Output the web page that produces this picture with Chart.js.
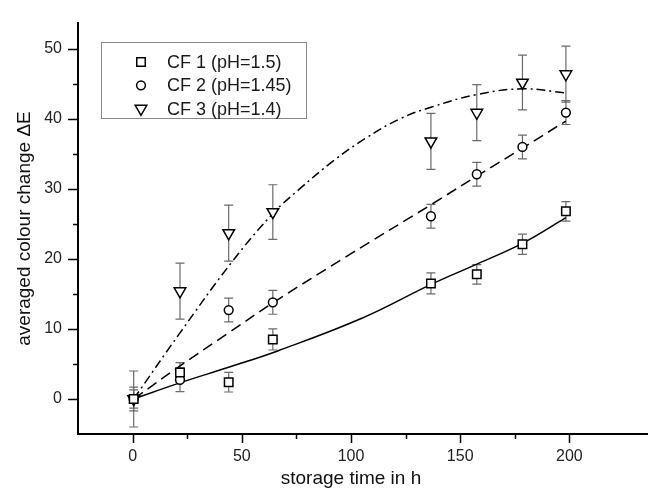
<!DOCTYPE html>
<html>
<head>
<meta charset="utf-8">
<script src="https://cdn.jsdelivr.net/npm/chart.js@4.4.1/dist/chart.umd.min.js"></script>
<style>
  html, body { margin: 0; padding: 0; background: #fff; }
  #wrap { position: relative; width: 648px; height: 488px; }
</style>
</head>
<body>
<div id="wrap"><canvas id="chart" width="648" height="488"></canvas></div>
<script>
// measured points (storage time in h, averaged colour change dE, +- error)
const times = [0.5, 21.7, 44, 64.2, 136.6, 157.6, 178.5, 198.4];
const cf1 = [0, 3.8, 2.4, 8.5, 16.5, 17.8, 22.1, 26.8];
const cf1Err = [1.3, 1.4, 1.4, 1.5, 1.5, 1.4, 1.45, 1.4];
const cf2 = [0, 2.75, 12.7, 13.8, 26.1, 32.1, 36.0, 40.9];
const cf2Err = [1.7, 1.7, 1.7, 1.7, 1.7, 1.7, 1.7, 1.7];
const cf3 = [0, 15.4, 23.7, 26.7, 36.8, 40.9, 45.2, 46.4];
const cf3Err = [4.0, 4.0, 4.0, 3.9, 4.0, 4.0, 3.9, 4.0];

// fitted curves
const fit1T = [0.5, 21.6, 44.7, 66.7, 105.5, 136.9, 157.9, 178.9, 198.4];
const fit1V = [0, 2.3, 4.6, 6.9, 11.6, 16.4, 19.3, 22.3, 25.9];
const fit2T = [0.5, 21.6, 44.7, 64.6, 98.2, 136.9, 157.9, 178.9, 198.4];
const fit2V = [0, 4.7, 9.6, 13.8, 20.4, 27.8, 31.9, 35.9, 39.7];
const fit3T = [0.5, 21.6, 45.8, 64.6, 76.1, 91.9, 106.5, 122.3, 136.9, 157.9, 178.9, 198.4];
const fit3V = [0, 9.4, 19.7, 26.6, 29.9, 34.0, 37.2, 40.0, 41.7, 43.5, 44.3, 43.7];

const legendLabels = ["CF 1 (pH=1.5)", "CF 2 (pH=1.45)", "CF 3 (pH=1.4)"];
const yMajor = [0, 10, 20, 30, 40, 50];
const yMinor = [5, 15, 25, 35, 45];
const xMajor = [0, 50, 100, 150, 200];
const xMinor = [25, 75, 125, 175];

const FONT = '"Liberation Sans", Arial, sans-serif';

const toXY = (xs, ys) => xs.map((x, i) => ({ x: x, y: ys[i] }));

const series = [
  { label: legendLabels[0], data: cf1, err: cf1Err, style: "rect", radius: 6, rotation: 0 },
  { label: legendLabels[1], data: cf2, err: cf2Err, style: "circle", radius: 4.4, rotation: 0 },
  { label: legendLabels[2], data: cf3, err: cf3Err, style: "triangle", radius: 6.7, rotation: 180 },
];

function drawMarker(ctx, style, x, y, r, rot) {
  ctx.beginPath();
  if (style === "rect") {
    const s = r * Math.SQRT1_2;
    ctx.rect(x - s, y - s, 2 * s, 2 * s);
  } else if (style === "circle") {
    ctx.arc(x, y, r, 0, Math.PI * 2);
  } else {
    let a = rot * Math.PI / 180;
    ctx.moveTo(x + Math.sin(a) * r, y - Math.cos(a) * r);
    a += 2 * Math.PI / 3;
    ctx.lineTo(x + Math.sin(a) * r, y - Math.cos(a) * r);
    a += 2 * Math.PI / 3;
    ctx.lineTo(x + Math.sin(a) * r, y - Math.cos(a) * r);
    ctx.closePath();
  }
  ctx.fillStyle = "#fff";
  ctx.fill();
  ctx.lineWidth = 1.5;
  ctx.strokeStyle = "#000";
  ctx.stroke();
}

const errorBars = {
  id: "errorBars",
  beforeDatasetsDraw(chart) {
    const { ctx, scales: { x, y } } = chart;
    ctx.save();
    ctx.strokeStyle = "#6a6a6a";
    ctx.lineWidth = 1.2;
    series.forEach((s) => {
      times.forEach((t, i) => {
        const px = x.getPixelForValue(t);
        const top = y.getPixelForValue(s.data[i] + s.err[i]);
        const bot = y.getPixelForValue(s.data[i] - s.err[i]);
        ctx.beginPath();
        ctx.moveTo(px, top);
        ctx.lineTo(px, bot);
        ctx.moveTo(px - 4.5, top);
        ctx.lineTo(px + 4.5, top);
        ctx.moveTo(px - 4.5, bot);
        ctx.lineTo(px + 4.5, bot);
        ctx.stroke();
      });
    });
    ctx.restore();
  },
};

const axisTicks = {
  id: "axisTicks",
  afterDraw(chart) {
    const { ctx, scales: { x, y }, chartArea } = chart;
    const yb = Math.round(chartArea.bottom);
    ctx.save();
    // x axis line, running on past the last value to the edge of the figure
    ctx.strokeStyle = "#000";
    ctx.lineWidth = 2;
    ctx.beginPath();
    ctx.moveTo(chartArea.left - 1, yb);
    ctx.lineTo(chart.width, yb);
    ctx.stroke();

    ctx.lineWidth = 1.5;
    ctx.beginPath();
    yMajor.forEach((v) => {
      const py = Math.round(y.getPixelForValue(v)) + 0.5;
      ctx.moveTo(chartArea.left - 10, py);
      ctx.lineTo(chartArea.left, py);
    });
    yMinor.forEach((v) => {
      const py = Math.round(y.getPixelForValue(v)) + 0.5;
      ctx.moveTo(chartArea.left - 5, py);
      ctx.lineTo(chartArea.left, py);
    });
    xMajor.forEach((v) => {
      const px = Math.round(x.getPixelForValue(v)) + 0.5;
      ctx.moveTo(px, yb);
      ctx.lineTo(px, yb + 9);
    });
    xMinor.forEach((v) => {
      const px = Math.round(x.getPixelForValue(v)) + 0.5;
      ctx.moveTo(px, yb);
      ctx.lineTo(px, yb + 5);
    });
    ctx.stroke();
    ctx.restore();
  },
};

const boxLegend = {
  id: "boxLegend",
  afterDraw(chart) {
    const ctx = chart.ctx;
    ctx.save();
    ctx.strokeStyle = "#888";
    ctx.lineWidth = 1;
    ctx.strokeRect(101.5, 42.5, 205, 76);
    ctx.font = "18px " + FONT;
    ctx.textBaseline = "middle";
    ctx.textAlign = "left";
    series.forEach((s, i) => {
      const cy = 62 + i * 23.3;
      drawMarker(ctx, s.style, 141, cy, s.radius, s.rotation);
      ctx.fillStyle = "#1a1a1a";
      ctx.fillText(s.label, 167, cy + 1);
    });
    ctx.restore();
  },
};

const fitLine = (t, v, dash) => ({
  type: "line",
  data: toXY(t, v),
  showLine: true,
  borderColor: "#000",
  borderWidth: 1.5,
  borderDash: dash,
  pointRadius: 0,
  tension: 0.4,
  fill: false,
  order: 2,
});

const noPad = (scale) => {
  scale.paddingLeft = 0;
  scale.paddingRight = 0;
  scale.paddingTop = 0;
  scale.paddingBottom = 0;
};

const chart = new Chart(document.getElementById("chart"), {
  type: "scatter",
  data: {
    datasets: [
      fitLine(fit1T, fit1V, []),
      fitLine(fit2T, fit2V, [11, 6]),
      fitLine(fit3T, fit3V, [9, 4, 2, 4]),
      ...series.map((s) => ({
        label: s.label,
        data: toXY(times, s.data),
        pointStyle: s.style,
        pointRadius: s.radius,
        rotation: s.rotation,
        pointBorderWidth: 1.5,
        pointBorderColor: "#000",
        pointBackgroundColor: "#fff",
        showLine: false,
        order: 1,
      })),
    ],
  },
  options: {
    responsive: false,
    animation: false,
    layout: { autoPadding: false, padding: { top: 23, right: 24, left: 0, bottom: 0 } },
    plugins: {
      legend: { display: false },
      tooltip: { enabled: false },
    },
    scales: {
      x: {
        type: "linear",
        min: -25,
        max: 225,
        afterFit: (scale) => { scale.height = 54; noPad(scale); },
        afterBuildTicks: (scale) => { scale.ticks = xMajor.map((v) => ({ value: v })); },
        grid: { display: false, drawTicks: false },
        border: { display: false },
        ticks: { color: "#222", font: { family: FONT, size: 16 }, padding: 13, maxRotation: 0 },
        title: {
          display: true,
          text: "storage time in h",
          color: "#111",
          font: { family: FONT, size: 19, lineHeight: 1.0 },
          padding: { top: 0, bottom: 0 },
        },
      },
      y: {
        type: "linear",
        min: -5,
        max: 53.7,
        afterFit: (scale) => { scale.width = 78; noPad(scale); },
        afterBuildTicks: (scale) => { scale.ticks = yMajor.map((v) => ({ value: v })); },
        grid: { display: false, drawTicks: false },
        border: { display: true, color: "#000", width: 2 },
        ticks: { color: "#222", font: { family: FONT, size: 16 }, padding: 16 },
        title: {
          display: true,
          text: "averaged colour change \u0394E",
          color: "#111",
          font: { family: FONT, size: 19 },
          padding: { top: 13, bottom: 0 },
        },
      },
    },
  },
  plugins: [errorBars, axisTicks, boxLegend],
});
</script>
</body>
</html>
